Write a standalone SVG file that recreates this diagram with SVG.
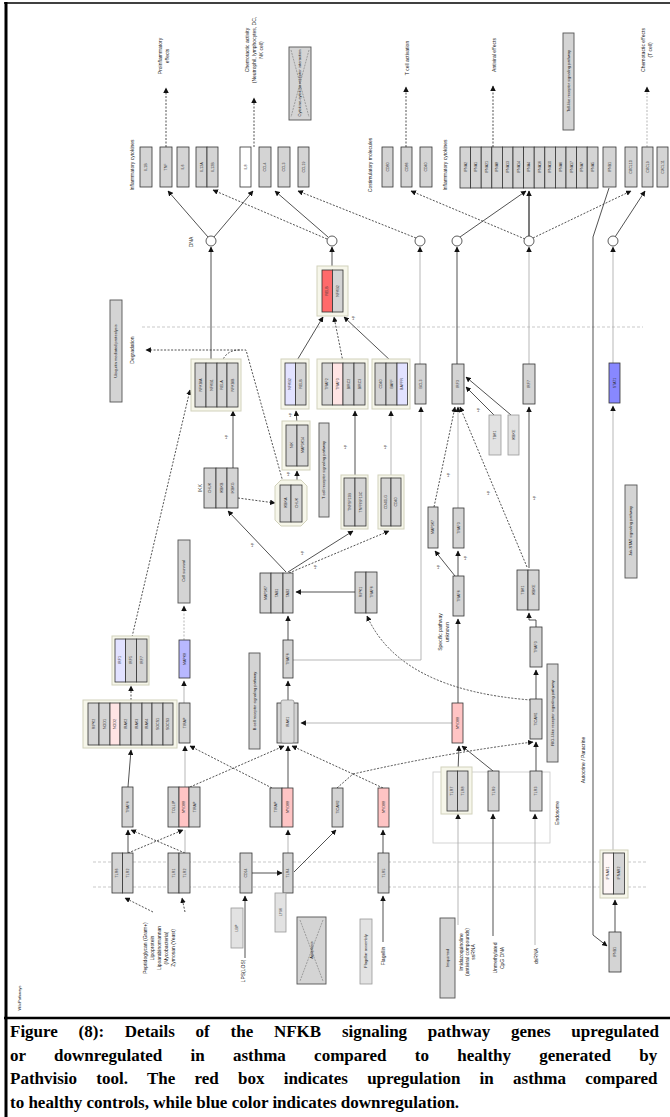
<svg xmlns="http://www.w3.org/2000/svg" width="670" height="1117" viewBox="0 0 670 1117">
<defs>
<style>
.c{fill:#d4d4d4;stroke:#333;stroke-width:0.8}
.w{fill:#ffffff;stroke:#333;stroke-width:0.8}
.pk{fill:#ffc4c4;stroke:#333;stroke-width:0.8}
.lp{fill:#ffe4e4;stroke:#333;stroke-width:0.8}
.rd{fill:#ff6a6a;stroke:#333;stroke-width:0.8}
.lv{fill:#e2e2ff;stroke:#333;stroke-width:0.8}
.bl{fill:#8888ff;stroke:#333;stroke-width:0.8}
.lg{fill:#e2e2e2;stroke:#999;stroke-width:0.8}
.go{fill:#f6f6ea;stroke:#d2d2bc;stroke-width:1}
.pw{fill:#d4d4d4;stroke:#555;stroke-width:0.9}
.t{font-family:"Liberation Sans",Arial,sans-serif;font-size:3.6px;fill:#333;text-anchor:middle}
.lb{font-family:"Liberation Sans",Arial,sans-serif;font-size:5px;fill:#222;text-anchor:middle}
.pp{font-family:"Liberation Sans",Arial,sans-serif;font-size:4px;fill:#222;text-anchor:middle}
.s{fill:none;stroke:#333;stroke-width:0.85}
.sl{fill:none;stroke:#aaa;stroke-width:0.85}
.d{fill:none;stroke:#333;stroke-width:0.85;stroke-dasharray:2,1.5}
.dl{fill:none;stroke:#aaa;stroke-width:0.85;stroke-dasharray:2,1.5}
.mem{fill:none;stroke:#bbb;stroke-width:0.8;stroke-dasharray:3,2}
.cap{font-family:"Liberation Serif","Times New Roman",serif;font-size:17px;font-weight:bold;fill:#000}
</style>
<marker id="a" viewBox="0 0 10 10" refX="9" refY="5" markerWidth="5.5" markerHeight="5.5" markerUnits="userSpaceOnUse" orient="auto"><path d="M0,0L10,5L0,10z" fill="#111"/></marker>
</defs>
<rect width="670" height="1117" fill="#fff"/>
<g id="frame">
<line x1="4" y1="3" x2="670" y2="3" stroke="#000" stroke-width="1.5"/>
<line x1="6" y1="2" x2="6" y2="1117" stroke="#000" stroke-width="3"/>
<line x1="4" y1="1018" x2="670" y2="1018" stroke="#000" stroke-width="2.5"/>
</g>
<g id="membranes">
<line x1="142" y1="327" x2="643" y2="327" class="mem"/>
<line x1="93" y1="862" x2="647" y2="862" class="mem"/>
<line x1="93" y1="887" x2="647" y2="887" class="mem"/>
<rect x="433" y="772" width="117" height="71" fill="none" stroke="#c8c8c8" stroke-width="0.8"/>
</g>
<g id="connectors">
<line x1="166" y1="147" x2="166" y2="88" class="d" marker-end="url(#a)"/>
<line x1="254" y1="147" x2="254" y2="98" class="d" marker-end="url(#a)"/>
<line x1="406" y1="147" x2="406" y2="87" class="d" marker-end="url(#a)"/>
<line x1="493" y1="147" x2="493" y2="86" class="d" marker-end="url(#a)"/>
<line x1="647" y1="147" x2="647" y2="87" class="dl" marker-end="url(#a)"/>
<line x1="208" y1="237" x2="168" y2="191" class="s" marker-end="url(#a)"/>
<line x1="214" y1="237" x2="253" y2="191" class="s" marker-end="url(#a)"/>
<line x1="327" y1="239" x2="213" y2="190" class="d" marker-end="url(#a)"/>
<line x1="328" y1="237" x2="275" y2="191" class="s" marker-end="url(#a)"/>
<line x1="416" y1="238" x2="298" y2="191" class="d" marker-end="url(#a)"/>
<line x1="525" y1="239" x2="411" y2="191" class="d" marker-end="url(#a)"/>
<line x1="460" y1="237" x2="526" y2="191" class="s" marker-end="url(#a)"/>
<line x1="529" y1="236" x2="529" y2="191" stroke="#333" stroke-width="1.3" marker-end="url(#a)"/>
<line x1="533" y1="238" x2="631" y2="191" class="d" marker-end="url(#a)"/>
<line x1="615" y1="237" x2="645" y2="191" class="s" marker-end="url(#a)"/>
<polyline points="609,188 593,237 593,935 607,946" class="s" marker-end="url(#a)"/>
<line x1="211" y1="362" x2="211" y2="247" class="s" marker-end="url(#a)"/>
<line x1="332" y1="267" x2="332" y2="247" class="s" marker-end="url(#a)"/>
<line x1="420" y1="364" x2="420" y2="247" class="sl" marker-end="url(#a)"/>
<line x1="457" y1="364" x2="457" y2="247" class="s" marker-end="url(#a)"/>
<line x1="529" y1="364" x2="529" y2="247" class="sl" marker-end="url(#a)"/>
<line x1="613" y1="363" x2="613" y2="247" class="sl" marker-end="url(#a)"/>
<line x1="296" y1="362" x2="323" y2="317" class="s" marker-end="url(#a)"/>
<line x1="343" y1="362" x2="334" y2="317" class="d" marker-end="url(#a)"/>
<line x1="392" y1="362" x2="344" y2="317" class="s" marker-end="url(#a)"/>
<polyline points="283,482 246,350 146,350" class="d" marker-end="url(#a)"/>
<path d="M222,362 Q226,350 240,350" class="d"/>
<line x1="132" y1="637" x2="190" y2="390" class="d" marker-end="url(#a)"/>
<line x1="184" y1="640" x2="184" y2="606" class="dl" marker-end="url(#a)"/>
<line x1="184" y1="703" x2="184" y2="681" class="sl" marker-end="url(#a)"/>
<line x1="131" y1="700" x2="131" y2="686" class="d" marker-end="url(#a)"/>
<line x1="128" y1="787" x2="131" y2="750" class="s" marker-end="url(#a)"/>
<line x1="185" y1="787" x2="185" y2="746" class="sl" marker-end="url(#a)"/>
<line x1="190" y1="787" x2="284" y2="746" class="d" marker-end="url(#a)"/>
<line x1="272" y1="788" x2="190" y2="746" class="d" marker-end="url(#a)"/>
<line x1="288" y1="788" x2="288" y2="746" class="s" marker-end="url(#a)"/>
<polyline points="337,788 353,774 292,746" class="d" marker-end="url(#a)"/>
<line x1="383" y1="788" x2="353" y2="774" class="d"/>
<path d="M353,774 Q450,752 533,742" class="d" marker-end="url(#a)"/>
<line x1="458" y1="771" x2="459" y2="746" class="s" marker-end="url(#a)"/>
<line x1="493" y1="771" x2="462" y2="746" class="s" marker-end="url(#a)"/>
<line x1="458" y1="703" x2="458" y2="619" class="s" marker-end="url(#a)"/>
<line x1="452" y1="723" x2="301" y2="723" class="sl" marker-end="url(#a)"/>
<line x1="458" y1="576" x2="458" y2="551" class="s" marker-end="url(#a)"/>
<line x1="455" y1="576" x2="435" y2="551" class="s" marker-end="url(#a)"/>
<line x1="458" y1="508" x2="458" y2="407" class="sl" marker-end="url(#a)"/>
<line x1="434" y1="507" x2="455" y2="407" class="d" marker-end="url(#a)"/>
<line x1="527" y1="567" x2="460" y2="407" class="d" marker-end="url(#a)"/>
<line x1="529" y1="568" x2="529" y2="407" class="s" marker-end="url(#a)"/>
<polyline points="536,627 536,620 529,620 529,613" class="s" marker-end="url(#a)"/>
<line x1="536" y1="699" x2="536" y2="670" class="s" marker-end="url(#a)"/>
<line x1="536" y1="771" x2="536" y2="742" class="s" marker-end="url(#a)"/>
<path d="M531,700 Q400,690 367,616" class="d" marker-end="url(#a)"/>
<line x1="355" y1="592" x2="296" y2="592" class="s" marker-end="url(#a)"/>
<line x1="288" y1="640" x2="288" y2="616" class="s" marker-end="url(#a)"/>
<line x1="288" y1="703" x2="288" y2="681" class="s" marker-end="url(#a)"/>
<polyline points="293,660 421,660 421,407" class="sl" marker-end="url(#a)"/>
<line x1="286" y1="572" x2="228" y2="511" class="s" marker-end="url(#a)"/>
<line x1="288" y1="572" x2="353" y2="531" class="s" marker-end="url(#a)"/>
<line x1="289" y1="573" x2="389" y2="531" class="d" marker-end="url(#a)"/>
<line x1="233" y1="468" x2="233" y2="411" class="s" marker-end="url(#a)"/>
<line x1="238" y1="498" x2="275" y2="503" class="d" marker-end="url(#a)"/>
<line x1="297" y1="482" x2="297" y2="471" class="s" marker-end="url(#a)"/>
<line x1="297" y1="423" x2="296" y2="411" class="s" marker-end="url(#a)"/>
<line x1="355" y1="477" x2="355" y2="411" class="s" marker-end="url(#a)"/>
<line x1="391" y1="477" x2="391" y2="411" class="sl" marker-end="url(#a)"/>
<line x1="494" y1="415" x2="466" y2="387" class="s" marker-end="url(#a)"/>
<line x1="511" y1="415" x2="466" y2="377" class="s" marker-end="url(#a)"/>
<line x1="613" y1="850" x2="613" y2="406" class="sl" marker-end="url(#a)"/>
<line x1="128" y1="853" x2="128" y2="830" class="s" marker-end="url(#a)"/>
<line x1="128" y1="853" x2="183" y2="830" class="d" marker-end="url(#a)"/>
<line x1="185" y1="853" x2="131" y2="830" class="d" marker-end="url(#a)"/>
<line x1="185" y1="853" x2="185" y2="830" class="sl"/>
<line x1="153" y1="912" x2="125" y2="898" class="d" marker-end="url(#a)"/>
<line x1="185" y1="912" x2="182" y2="898" class="d" marker-end="url(#a)"/>
<line x1="245" y1="958" x2="245" y2="896" class="s" marker-end="url(#a)"/>
<line x1="252" y1="873" x2="282" y2="873" class="s" marker-end="url(#a)"/>
<line x1="294" y1="872" x2="336" y2="830" class="s" marker-end="url(#a)"/>
<line x1="288" y1="853" x2="288" y2="830" class="sl" marker-end="url(#a)"/>
<line x1="383" y1="942" x2="383" y2="896" class="s" marker-end="url(#a)"/>
<line x1="383" y1="853" x2="383" y2="830" class="s" marker-end="url(#a)"/>
<line x1="458" y1="925" x2="458" y2="814" class="sl" marker-end="url(#a)"/>
<line x1="493" y1="936" x2="493" y2="814" class="s" marker-end="url(#a)"/>
<line x1="535" y1="945" x2="535" y2="814" class="sl" marker-end="url(#a)"/>
<line x1="615" y1="932" x2="615" y2="900" class="s" marker-end="url(#a)"/>
</g>
<g id="dna_sites" fill="#fff" stroke="#333" stroke-width="0.8">
<circle cx="211" cy="241" r="5"/><circle cx="332" cy="241" r="5"/><circle cx="420" cy="241" r="5"/>
<circle cx="457" cy="241" r="5"/><circle cx="529" cy="241" r="5"/><circle cx="613" cy="241" r="5"/>
</g>
<g id="inflammatory_cytokines1">
<rect x="140" y="147" width="12" height="40" class="c"/><text class="t" transform="translate(146,167) rotate(-90)" dy="1.3">IL1B</text>
<rect x="160" y="147" width="12" height="40" class="c"/><text class="t" transform="translate(166,167) rotate(-90)" dy="1.3">TNF</text>
<rect x="177" y="147" width="12" height="40" class="c"/><text class="t" transform="translate(183,167) rotate(-90)" dy="1.3">IL6</text>
<rect x="196" y="147" width="11" height="40" class="c"/><text class="t" transform="translate(201.5,167) rotate(-90)" dy="1.3">IL12A</text>
<rect x="207" y="147" width="11" height="40" class="c"/><text class="t" transform="translate(212.5,167) rotate(-90)" dy="1.3">IL12B</text>
</g>
<g id="chemokines">
<rect x="240" y="147" width="11" height="40" class="w"/><text class="t" transform="translate(245.5,167) rotate(-90)" dy="1.3">IL8</text>
<rect x="259" y="147" width="12" height="40" class="c"/><text class="t" transform="translate(265,167) rotate(-90)" dy="1.3">CCL4</text>
<rect x="278" y="147" width="12" height="40" class="c"/><text class="t" transform="translate(284,167) rotate(-90)" dy="1.3">CCL3</text>
<rect x="298" y="147" width="11" height="40" class="c"/><text class="t" transform="translate(303.5,167) rotate(-90)" dy="1.3">CCL19</text>
</g>
<g id="costimulatory">
<rect x="382" y="147" width="11" height="40" class="c"/><text class="t" transform="translate(387.5,167) rotate(-90)" dy="1.3">CD80</text>
<rect x="401" y="147" width="11" height="40" class="c"/><text class="t" transform="translate(406.5,167) rotate(-90)" dy="1.3">CD86</text>
<rect x="420" y="147" width="12" height="40" class="c"/><text class="t" transform="translate(426,167) rotate(-90)" dy="1.3">CD40</text>
</g>
<g id="ifna_group">
<rect x="460" y="147" width="10.6" height="41" class="c"/><text class="t" transform="translate(465.3,167) rotate(-90)" dy="1.3">IFNA2</text>
<rect x="470.6" y="147" width="10.6" height="41" class="c"/><text class="t" transform="translate(475.9,167) rotate(-90)" dy="1.3">IFNA1</text>
<rect x="481.2" y="147" width="10.6" height="41" class="c"/><text class="t" transform="translate(486.5,167) rotate(-90)" dy="1.3">IFNA21</text>
<rect x="491.8" y="147" width="10.6" height="41" class="c"/><text class="t" transform="translate(497.1,167) rotate(-90)" dy="1.3">IFNA8</text>
<rect x="502.4" y="147" width="10.6" height="41" class="c"/><text class="t" transform="translate(507.7,167) rotate(-90)" dy="1.3">IFNA13</text>
<rect x="513" y="147" width="10.6" height="41" class="c"/><text class="t" transform="translate(518.3,167) rotate(-90)" dy="1.3">IFNA14</text>
<rect x="523.6" y="147" width="10.6" height="41" class="c"/><text class="t" transform="translate(528.9,167) rotate(-90)" dy="1.3">IFNA4</text>
<rect x="534.2" y="147" width="10.6" height="41" class="c"/><text class="t" transform="translate(539.5,167) rotate(-90)" dy="1.3">IFNA16</text>
<rect x="544.8" y="147" width="10.6" height="41" class="c"/><text class="t" transform="translate(550.1,167) rotate(-90)" dy="1.3">IFNA10</text>
<rect x="555.4" y="147" width="10.6" height="41" class="c"/><text class="t" transform="translate(560.7,167) rotate(-90)" dy="1.3">IFNA6</text>
<rect x="566" y="147" width="10.6" height="41" class="c"/><text class="t" transform="translate(571.3,167) rotate(-90)" dy="1.3">IFNA17</text>
<rect x="576.6" y="147" width="10.6" height="41" class="c"/><text class="t" transform="translate(581.9,167) rotate(-90)" dy="1.3">IFNA7</text>
<rect x="587.2" y="147" width="10.8" height="41" class="c"/><text class="t" transform="translate(592.6,167) rotate(-90)" dy="1.3">IFNA5</text>
</g>
<g id="ifnb"><rect x="603" y="147" width="13" height="40" class="c"/><text class="t" transform="translate(609.5,167) rotate(-90)" dy="1.3">IFNB1</text></g>
<g id="chemotactic_t">
<rect x="625" y="147" width="12" height="40" class="c"/><text class="t" transform="translate(631,167) rotate(-90)" dy="1.3">CXCL10</text>
<rect x="642" y="147" width="11" height="40" class="c"/><text class="t" transform="translate(647.5,167) rotate(-90)" dy="1.3">CXCL9</text>
<rect x="657" y="147" width="11" height="40" class="c"/><text class="t" transform="translate(662.5,167) rotate(-90)" dy="1.3">CXCL11</text>
</g>
<g id="top_labels">
<text class="lb" transform="translate(132,165) rotate(-90)" dy="1.7">Inflammatory cytokines</text>
<text class="lb" transform="translate(160,56) rotate(-90)" dy="1.7">Proinflammatory</text>
<text class="lb" transform="translate(167,56) rotate(-90)" dy="1.7">effects</text>
<text class="lb" transform="translate(247,50) rotate(-90)" dy="1.7">Chemotactic activity</text>
<text class="lb" transform="translate(254,50) rotate(-90)" dy="1.7">(Neutrophil, lymphocytes, DC,</text>
<text class="lb" transform="translate(261,50) rotate(-90)" dy="1.7">NK cell)</text>
<text class="lb" transform="translate(370,165) rotate(-90)" dy="1.7">Costimulatory molecules</text>
<text class="lb" transform="translate(407,58) rotate(-90)" dy="1.7">T cell activation</text>
<text class="lb" transform="translate(445,165) rotate(-90)" dy="1.7">Inflammatory cytokines</text>
<text class="lb" transform="translate(494,55) rotate(-90)" dy="1.7">Antiviral effects</text>
<text class="lb" transform="translate(643,50) rotate(-90)" dy="1.7">Chemotactic effects</text>
<text class="lb" transform="translate(650,50) rotate(-90)" dy="1.7">(T cell)</text>
<text class="lb" transform="translate(191,242) rotate(-90)" dy="1.7">DNA</text>
<text class="lb" transform="translate(132,350) rotate(-90)" dy="1.7">Degradation</text>
<text class="lb" transform="translate(200,488) rotate(-90)" dy="1.7">IKK</text>
<text class="lb" transform="translate(440,632) rotate(-90)" dy="1.7">Specific pathway</text>
<text class="lb" transform="translate(447,632) rotate(-90)" dy="1.7">unknown</text>
<text class="lb" transform="translate(583,760) rotate(-90)" dy="1.7">Autocrine / Paracrine</text>
<text class="lb" transform="translate(557,813) rotate(-90)" dy="1.7">Endosome</text>
</g>
<g id="pathway_cytokine"><rect x="289" y="47" width="22" height="73" class="pw"/><line x1="291" y1="50" x2="309" y2="117" stroke="#777" stroke-width="0.6" stroke-dasharray="2,1"/><line x1="309" y1="50" x2="291" y2="117" stroke="#777" stroke-width="0.6" stroke-dasharray="2,1"/><text class="pp" transform="translate(300,83) rotate(-90)" dy="1.4">Cytokine-cytokine receptor interaction</text></g>
<g id="pathway_tlr"><rect x="563" y="33" width="11" height="97" class="pw"/><text class="pp" transform="translate(568.5,81) rotate(-90)" dy="1.4">Toll-like receptor signaling pathway</text></g>
<g id="pathway_ubiquitin"><rect x="110" y="300" width="12" height="102" class="pw"/><text class="pp" transform="translate(116,351) rotate(-90)" dy="1.4">Ubiquitin mediated proteolysis</text></g>
<g id="pathway_survival"><rect x="178" y="540" width="12" height="63" class="pw"/><text class="pp" transform="translate(184,571) rotate(-90)" dy="1.4">Cell survival</text></g>
<g id="pathway_bcr"><rect x="249" y="653" width="11" height="96" class="pw"/><text class="pp" transform="translate(254.5,701) rotate(-90)" dy="1.4">B cell receptor signaling pathway</text></g>
<g id="pathway_tcr"><rect x="319" y="423" width="10" height="94" class="pw"/><text class="pp" transform="translate(324,470) rotate(-90)" dy="1.4">T cell receptor signaling pathway</text></g>
<g id="pathway_rig"><rect x="547" y="664" width="11" height="98" class="pw"/><text class="pp" transform="translate(552.5,713) rotate(-90)" dy="1.4">RIG-I-like receptor signaling pathway</text></g>
<g id="pathway_jak"><rect x="625" y="485" width="12" height="93" class="pw"/><text class="pp" transform="translate(631,531) rotate(-90)" dy="1.4">Jak-STAT signaling pathway</text></g>
<g id="pathway_bottom_x"><rect x="297" y="917" width="29" height="67" class="pw"/><line x1="300" y1="920" x2="323" y2="981" stroke="#777" stroke-width="0.6" stroke-dasharray="2,1"/><line x1="323" y1="920" x2="300" y2="981" stroke="#777" stroke-width="0.6" stroke-dasharray="2,1"/><text class="pp" transform="translate(311.5,950) rotate(-90)" dy="1.4">Apoptosis</text></g>
<g id="pathway_flag"><rect x="360" y="919" width="12" height="65" class="lg"/><text class="pp" transform="translate(366,951) rotate(-90)" dy="1.4">Flagellar assembly</text></g>
<g id="compound_imq"><rect x="440" y="918" width="15" height="80" class="pw"/><text class="pp" transform="translate(447.5,958) rotate(-90)" dy="1.4">Imiquimod</text></g>
<g id="lbp"><rect x="231" y="908" width="12" height="40" class="lg"/><text class="t" transform="translate(237,928) rotate(-90)" dy="1.3">LBP</text></g>
<g id="nfkb_complex">
<rect x="191" y="359" width="50" height="52" class="go"/>
<rect x="195" y="363" width="11" height="44" class="c"/><text class="t" transform="translate(200.5,385) rotate(-90)" dy="1.3">NFKBIA</text>
<rect x="206" y="363" width="11" height="44" class="c"/><text class="t" transform="translate(211.5,385) rotate(-90)" dy="1.3">NFKB1</text>
<rect x="217" y="363" width="10" height="44" class="c"/><text class="t" transform="translate(222,385) rotate(-90)" dy="1.3">RELA</text>
<rect x="227" y="363" width="11" height="44" class="c"/><text class="t" transform="translate(232.5,385) rotate(-90)" dy="1.3">NFKBIB</text>
</g>
<g id="ikk">
<rect x="204" y="468" width="12" height="40" class="c"/><text class="t" transform="translate(210,488) rotate(-90)" dy="1.3">CHUK</text>
<rect x="216" y="468" width="11" height="40" class="c"/><text class="t" transform="translate(221.5,488) rotate(-90)" dy="1.3">IKBKB</text>
<rect x="227" y="468" width="11" height="40" class="c"/><text class="t" transform="translate(232.5,488) rotate(-90)" dy="1.3">IKBKG</text>
</g>
<g id="red_complex">
<rect x="317" y="266" width="31" height="50" class="go"/>
<rect x="322" y="270" width="10.5" height="42" class="rd"/><text class="t" transform="translate(327,291) rotate(-90)" dy="1.3">RELB</text>
<rect x="332.5" y="270" width="10.5" height="42" class="c"/><text class="t" transform="translate(337.7,291) rotate(-90)" dy="1.3">NFKB2</text>
</g>
<g id="g1">
<rect x="281" y="359" width="28" height="50" class="go"/>
<rect x="285" y="363" width="10.5" height="42" class="lv"/><text class="t" transform="translate(290,384) rotate(-90)" dy="1.3">NFKB2</text>
<rect x="295.5" y="363" width="10.5" height="42" class="c"/><text class="t" transform="translate(300.7,384) rotate(-90)" dy="1.3">RELB</text>
</g>
<g id="g2">
<rect x="317" y="359" width="51" height="50" class="go"/>
<rect x="322" y="363" width="10.5" height="42" class="c"/><text class="t" transform="translate(327,384) rotate(-90)" dy="1.3">TRAF2</text>
<rect x="332.5" y="363" width="10.5" height="42" class="lp"/><text class="t" transform="translate(337.7,384) rotate(-90)" dy="1.3">TRAF3</text>
<rect x="343" y="363" width="11" height="42" class="c"/><text class="t" transform="translate(348.5,384) rotate(-90)" dy="1.3">BIRC2</text>
<rect x="354" y="363" width="11" height="42" class="c"/><text class="t" transform="translate(359.5,384) rotate(-90)" dy="1.3">BIRC3</text>
</g>
<g id="g3">
<rect x="372" y="359" width="38" height="50" class="go"/>
<rect x="375" y="363" width="11" height="42" class="c"/><text class="t" transform="translate(380.5,384) rotate(-90)" dy="1.3">CD40</text>
<rect x="386" y="363" width="11" height="42" class="c"/><text class="t" transform="translate(391.5,384) rotate(-90)" dy="1.3">BAFF</text>
<rect x="397" y="363" width="10.5" height="42" class="lv"/><text class="t" transform="translate(402,384) rotate(-90)" dy="1.3">BAFFR</text>
</g>
<g id="g_nik">
<rect x="282" y="421" width="28" height="49" class="go"/>
<rect x="286" y="425" width="11" height="41" class="c"/><text class="t" transform="translate(291.5,445) rotate(-90)" dy="1.3">NIK</text>
<rect x="297" y="425" width="11" height="41" class="c"/><text class="t" transform="translate(302.5,445) rotate(-90)" dy="1.3">MAP3K14</text>
</g>
<g id="hex_group">
<polygon points="281,480 301,480 307,486 307,520 301,526 281,526 275,520 275,486" class="go"/>
<rect x="280" y="485" width="11" height="37" class="c"/><text class="t" transform="translate(285.5,503) rotate(-90)" dy="1.3">IKBKA</text>
<rect x="291" y="485" width="11" height="37" class="c"/><text class="t" transform="translate(296.5,503) rotate(-90)" dy="1.3">CHUK</text>
</g>
<g id="g4">
<rect x="341" y="475" width="27" height="54" class="go"/>
<rect x="344" y="478" width="11" height="48" class="c"/><text class="t" transform="translate(349.5,502) rotate(-90)" dy="1.3">TNFSF13B</text>
<rect x="355" y="478" width="11" height="48" class="c"/><text class="t" transform="translate(360.5,502) rotate(-90)" dy="1.3">TNFRSF13C</text>
</g>
<g id="g5">
<rect x="378" y="475" width="26" height="54" class="go"/>
<rect x="381" y="478" width="10" height="48" class="c"/><text class="t" transform="translate(386,502) rotate(-90)" dy="1.3">CD40LG</text>
<rect x="391" y="478" width="10" height="48" class="c"/><text class="t" transform="translate(396,502) rotate(-90)" dy="1.3">CD40</text>
</g>
<g id="n_415"><rect x="415" y="364" width="11" height="40" class="c"/><text class="t" transform="translate(420.5,384) rotate(-90)" dy="1.3">BCL3</text></g>
<g id="n_453"><rect x="452" y="364" width="12" height="40" class="c"/><text class="t" transform="translate(458,384) rotate(-90)" dy="1.3">IRF3</text></g>
<g id="n_489"><rect x="489" y="415" width="12" height="40" class="lg"/><text class="t" transform="translate(495,435) rotate(-90)" dy="1.3">TBK1</text></g>
<g id="n_508"><rect x="508" y="415" width="11" height="40" class="lg"/><text class="t" transform="translate(513.5,435) rotate(-90)" dy="1.3">IKBKE</text></g>
<g id="n_523"><rect x="523" y="364" width="12" height="40" class="c"/><text class="t" transform="translate(529,384) rotate(-90)" dy="1.3">IRF7</text></g>
<g id="n_blue609"><rect x="609" y="363" width="11" height="40" class="bl"/><text class="t" transform="translate(614.5,383) rotate(-90)" dy="1.3">STAT1</text></g>
<g id="n_428"><rect x="428" y="507" width="10" height="41" class="c"/><text class="t" transform="translate(433,527) rotate(-90)" dy="1.3">MAP3K7</text></g>
<g id="n_453b"><rect x="453" y="508" width="11" height="40" class="c"/><text class="t" transform="translate(458.5,528) rotate(-90)" dy="1.3">TRAF3</text></g>
<g id="n_453c"><rect x="453" y="576" width="11" height="40" class="c"/><text class="t" transform="translate(458.5,596) rotate(-90)" dy="1.3">TRAF6</text></g>
<g id="n_pink452"><rect x="452" y="703" width="11" height="40" class="pk"/><text class="t" transform="translate(457.5,723) rotate(-90)" dy="1.3">MYD88</text></g>
<g id="g_517">
<rect x="517" y="570" width="11" height="40" class="c"/><text class="t" transform="translate(522.5,590) rotate(-90)" dy="1.3">TBK1</text>
<rect x="528" y="570" width="11" height="40" class="c"/><text class="t" transform="translate(533.5,590) rotate(-90)" dy="1.3">IKBKE</text>
</g>
<g id="n_530a"><rect x="530" y="627" width="12" height="40" class="c"/><text class="t" transform="translate(536,647) rotate(-90)" dy="1.3">TRAF3</text></g>
<g id="n_530b"><rect x="530" y="699" width="12" height="40" class="c"/><text class="t" transform="translate(536,719) rotate(-90)" dy="1.3">TICAM1</text></g>
<g id="g_tak">
<rect x="260" y="573" width="11" height="40" class="c"/><text class="t" transform="translate(265.5,593) rotate(-90)" dy="1.3">MAP3K7</text>
<rect x="271" y="573" width="12" height="40" class="c"/><text class="t" transform="translate(277,593) rotate(-90)" dy="1.3">TAB1</text>
<rect x="283" y="573" width="10" height="40" class="c"/><text class="t" transform="translate(288,593) rotate(-90)" dy="1.3">TAB2</text>
</g>
<g id="g_355">
<rect x="355" y="572" width="11" height="41" class="c"/><text class="t" transform="translate(360.5,592) rotate(-90)" dy="1.3">RIPK1</text>
<rect x="366" y="572" width="11" height="41" class="c"/><text class="t" transform="translate(371.5,592) rotate(-90)" dy="1.3">TRAF6</text>
</g>
<g id="n_traf6"><rect x="283" y="640" width="10" height="38" class="c"/><text class="t" transform="translate(288,659) rotate(-90)" dy="1.3">TRAF6</text></g>
<g id="n_irak">
<rect x="277" y="703" width="21" height="40" class="c"/>
<rect x="281" y="700" width="13" height="43" rx="2" fill="#dcdcdc" stroke="#777" stroke-width="0.6"/>
<text class="t" transform="translate(287.5,722) rotate(-90)" dy="1.3">IRAK1</text>
</g>
<g id="irf_group">
<rect x="112" y="636" width="37" height="49" class="go"/>
<rect x="115" y="639" width="10.5" height="43" class="lv"/><text class="t" transform="translate(120,660) rotate(-90)" dy="1.3">IRF1</text>
<rect x="125.5" y="639" width="11" height="43" class="c"/><text class="t" transform="translate(131,660) rotate(-90)" dy="1.3">IRF5</text>
<rect x="136.5" y="639" width="10.5" height="43" class="c"/><text class="t" transform="translate(141.7,660) rotate(-90)" dy="1.3">IRF7</text>
</g>
<g id="n_blue179"><rect x="179" y="640" width="11" height="38" class="bl" style="fill:#b8b8ff"/><text class="t" transform="translate(184.5,659) rotate(-90)" dy="1.3">MAPK8</text></g>
<g id="n_179"><rect x="179" y="703" width="11" height="40" class="c"/><text class="t" transform="translate(184.5,723) rotate(-90)" dy="1.3">TIRAP</text></g>
<g id="big_group">
<rect x="83" y="700" width="94" height="48" class="go"/>
<rect x="88" y="703" width="11" height="42" class="c"/><text class="t" transform="translate(93.5,724) rotate(-90)" dy="1.3">RIPK2</text>
<rect x="99" y="703" width="11" height="42" class="c"/><text class="t" transform="translate(104.5,724) rotate(-90)" dy="1.3">NOD1</text>
<rect x="110" y="703" width="10" height="42" class="lp"/><text class="t" transform="translate(115,724) rotate(-90)" dy="1.3">NOD2</text>
<rect x="120" y="703" width="11" height="42" class="c"/><text class="t" transform="translate(125.5,724) rotate(-90)" dy="1.3">IRAK2</text>
<rect x="131" y="703" width="11" height="42" class="c"/><text class="t" transform="translate(136.5,724) rotate(-90)" dy="1.3">IRAK3</text>
<rect x="142" y="703" width="10" height="42" class="c"/><text class="t" transform="translate(147,724) rotate(-90)" dy="1.3">IRAK4</text>
<rect x="152" y="703" width="11" height="42" class="c"/><text class="t" transform="translate(157.5,724) rotate(-90)" dy="1.3">SOCS1</text>
<rect x="163" y="703" width="10" height="42" class="c"/><text class="t" transform="translate(168,724) rotate(-90)" dy="1.3">SOCS3</text>
</g>
<g id="n_122"><rect x="122" y="787" width="11" height="40" class="c"/><text class="t" transform="translate(127.5,807) rotate(-90)" dy="1.3">TRAF6</text></g>
<g id="g_168">
<rect x="168" y="787" width="11" height="40" class="c"/><text class="t" transform="translate(173.5,807) rotate(-90)" dy="1.3">TOLLIP</text>
<rect x="179" y="787" width="10" height="40" class="pk"/><text class="t" transform="translate(184,807) rotate(-90)" dy="1.3">MYD88</text>
<rect x="189" y="787" width="11" height="40" class="c"/><text class="t" transform="translate(194.5,807) rotate(-90)" dy="1.3">TIRAP</text>
</g>
<g id="g_270">
<rect x="270" y="788" width="12" height="39" class="c"/><text class="t" transform="translate(276,807) rotate(-90)" dy="1.3">TIRAP</text>
<rect x="282" y="788" width="11" height="39" class="pk"/><text class="t" transform="translate(287.5,807) rotate(-90)" dy="1.3">MYD88</text>
</g>
<g id="n_332"><rect x="332" y="788" width="11" height="39" class="c"/><text class="t" transform="translate(337.5,807) rotate(-90)" dy="1.3">TICAM2</text></g>
<g id="n_378"><rect x="378" y="788" width="11" height="39" class="pk"/><text class="t" transform="translate(383.5,807) rotate(-90)" dy="1.3">MYD88</text></g>
<g id="endo_g">
<rect x="441" y="767" width="31" height="47" class="go"/>
<rect x="447" y="771" width="10.5" height="40" class="c"/><text class="t" transform="translate(452,791) rotate(-90)" dy="1.3">TLR7</text>
<rect x="457.5" y="771" width="10.5" height="40" class="c"/><text class="t" transform="translate(462.7,791) rotate(-90)" dy="1.3">TLR8</text>
</g>
<g id="n_488"><rect x="488" y="771" width="11" height="40" class="c"/><text class="t" transform="translate(493.5,791) rotate(-90)" dy="1.3">TLR9</text></g>
<g id="n_530c"><rect x="530" y="771" width="12" height="40" class="c"/><text class="t" transform="translate(536,791) rotate(-90)" dy="1.3">TLR3</text></g>
<g id="tlr_a">
<rect x="112" y="853" width="10.5" height="40" class="c"/><text class="t" transform="translate(117,873) rotate(-90)" dy="1.3">TLR6</text>
<rect x="122.5" y="853" width="10.5" height="40" class="c"/><text class="t" transform="translate(127.7,873) rotate(-90)" dy="1.3">TLR2</text>
</g>
<g id="tlr_b">
<rect x="168" y="853" width="11" height="40" class="c"/><text class="t" transform="translate(173.5,873) rotate(-90)" dy="1.3">TLR1</text>
<rect x="179" y="853" width="11" height="40" class="c"/><text class="t" transform="translate(184.5,873) rotate(-90)" dy="1.3">TLR2</text>
</g>
<g id="n_240"><rect x="240" y="853" width="12" height="40" class="c"/><text class="t" transform="translate(246,873) rotate(-90)" dy="1.3">CD14</text></g>
<g id="n_283"><rect x="283" y="853" width="10" height="40" class="c"/><text class="t" transform="translate(288,873) rotate(-90)" dy="1.3">TLR4</text></g>
<g id="n_275"><rect x="275" y="893" width="11" height="39" class="lg"/><text class="t" transform="translate(280.5,912) rotate(-90)" dy="1.3">LY96</text></g>
<g id="n_378b"><rect x="378" y="853" width="11" height="40" class="c"/><text class="t" transform="translate(383.5,873) rotate(-90)" dy="1.3">TLR5</text></g>
<g id="ifnar">
<rect x="600" y="850" width="28" height="48" class="go"/>
<rect x="603" y="853" width="10.5" height="41" fill="#fdf6f6" stroke="#333" stroke-width="0.8"/><text class="t" transform="translate(608,873) rotate(-90)" dy="1.3">IFNAR1</text>
<rect x="613.5" y="853" width="11" height="41" class="c"/><text class="t" transform="translate(619,873) rotate(-90)" dy="1.3">IFNAR2</text>
</g>
<g id="n_609b"><rect x="609" y="932" width="12" height="40" class="c"/><text class="t" transform="translate(615,952) rotate(-90)" dy="1.3">IFNB1</text></g>
<g id="ligands">
<text class="lb" transform="translate(145,948) rotate(-90)" dy="1.7">Peptidoglycan (Gram+)</text>
<text class="lb" transform="translate(152,948) rotate(-90)" dy="1.7">Lipoprotein</text>
<text class="lb" transform="translate(159,948) rotate(-90)" dy="1.7">Lipoarabinomannan</text>
<text class="lb" transform="translate(166,948) rotate(-90)" dy="1.7">(Mycobacteria)</text>
<text class="lb" transform="translate(173,948) rotate(-90)" dy="1.7">Zymosan (Yeast)</text>
<text class="lb" transform="translate(243,971) rotate(-90)" dy="1.7">LPS(LOS)</text>
<text class="lb" transform="translate(383,956) rotate(-90)" dy="1.7">Flagellin</text>
<text class="lb" transform="translate(461,952) rotate(-90)" dy="1.7">Imidazoquinoline</text>
<text class="lb" transform="translate(467,952) rotate(-90)" dy="1.7">(antiviral compounds)</text>
<text class="lb" transform="translate(473,952) rotate(-90)" dy="1.7">ssRNA</text>
<text class="lb" transform="translate(495,958) rotate(-90)" dy="1.7">Unmethylated</text>
<text class="lb" transform="translate(502,958) rotate(-90)" dy="1.7">CpG DNA</text>
<text class="lb" transform="translate(536,956) rotate(-90)" dy="1.7">dsRNA</text>
<text class="pp" transform="translate(20,998) rotate(-90)" dy="1.4" fill="#777">WikiPathways</text>
</g>
<g id="plabels">
<text class="pp" transform="translate(353,318) rotate(-90)" dy="1.4">+p</text>
<text class="pp" transform="translate(290,415) rotate(-90)" dy="1.4">+p</text>
<text class="pp" transform="translate(226,437) rotate(-90)" dy="1.4">+p</text>
<text class="pp" transform="translate(345,447) rotate(-90)" dy="1.4">+p</text>
<text class="pp" transform="translate(385,447) rotate(-90)" dy="1.4">+p</text>
<text class="pp" transform="translate(288,474) rotate(-90)" dy="1.4">+p</text>
<text class="pp" transform="translate(478,410) rotate(-90)" dy="1.4">+p</text>
<text class="pp" transform="translate(448,475) rotate(-90)" dy="1.4">+p</text>
<text class="pp" transform="translate(488,493) rotate(-90)" dy="1.4">+p</text>
<text class="pp" transform="translate(534,498) rotate(-90)" dy="1.4">+p</text>
<text class="pp" transform="translate(252,545) rotate(-90)" dy="1.4">+p</text>
<text class="pp" transform="translate(302,553) rotate(-90)" dy="1.4">+p</text>
<text class="pp" transform="translate(315,567) rotate(-90)" dy="1.4">+p</text>
<text class="pp" transform="translate(465,558) rotate(-90)" dy="1.4">+p</text>
<text class="pp" transform="translate(438,567) rotate(-90)" dy="1.4">+p</text>
</g>
<g id="caption">
<text class="cap" x="10" y="1037" word-spacing="16.5">Figure (8): Details of the NFKB signaling pathway genes upregulated</text>
<text class="cap" x="10" y="1060.5" word-spacing="24">or downregulated in asthma compared to healthy generated by</text>
<text class="cap" x="10" y="1084" word-spacing="15">Pathvisio tool. The red box indicates upregulation in asthma compared</text>
<text class="cap" x="10" y="1107.5">to healthy controls, while blue color indicates downregulation.</text>
</g>
</svg>
